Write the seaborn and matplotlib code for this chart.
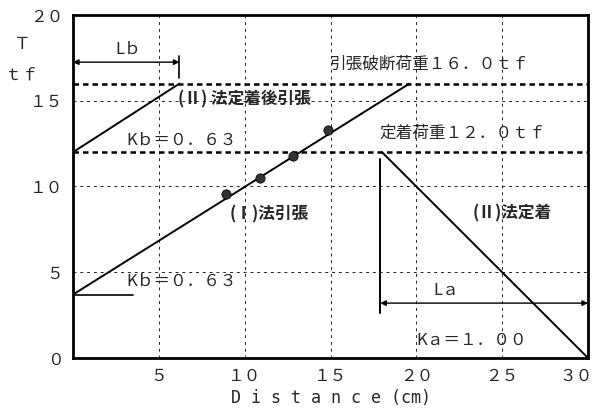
import matplotlib
matplotlib.use("Agg")
import matplotlib.pyplot as plt
import matplotlib.transforms as mtransforms
import seaborn as sns
import pandas as pd

# Tension profiles along the tendon (distance in cm, tension in tf)
post_fix_x = [0.0, 6.2]          # (II) method: tension after anchoring
post_fix_y = [12.0, 16.0]
tension_x = [0.0, 19.6]          # (I) method: tensioning line
tension_y = [3.7, 16.0]
anchor_x = [18.0, 30.0]          # (II) method: anchoring drop
anchor_y = [12.0, 0.0]
measured_x = [8.9, 10.9, 12.8, 14.85]
measured_y = [9.55, 10.5, 11.8, 13.3]

breaking_load = 16.0
anchor_load = 12.0
lb_length = 6.2
la_start = 17.9

x_ticks = [0, 5, 10, 15, 20, 25, 30]
y_ticks = [0, 5, 10, 15, 20]
x_tick_labels = ["", "５", "１０", "１５", "２０", "２５", "３０"]
y_tick_labels = ["０", "５", "１０", "１５", "２０"]

sns.set_style("white")
plt.rcParams["font.family"] = ["Noto Sans CJK JP", "DejaVu Sans"]

fig = plt.figure(figsize=(6.0, 4.11), dpi=100)
ax = fig.add_axes([0.1217, 0.129, 0.8583, 0.8345])

line_kw = dict(color="black", linewidth=1.4, ax=ax, legend=False)
sns.lineplot(data=pd.DataFrame({"x": post_fix_x, "y": post_fix_y}), x="x", y="y", **line_kw)
sns.lineplot(data=pd.DataFrame({"x": tension_x, "y": tension_y}), x="x", y="y", **line_kw)
sns.lineplot(data=pd.DataFrame({"x": anchor_x, "y": anchor_y}), x="x", y="y", **line_kw)
sns.scatterplot(data=pd.DataFrame({"x": measured_x, "y": measured_y}), x="x", y="y",
                color="#333333", edgecolor="black", s=45, ax=ax, zorder=5, legend=False)

# Reference loads
for level in (breaking_load, anchor_load):
    ax.axhline(level, color="black", linewidth=1.8, linestyle=(0, (2.2, 1.6)), zorder=2)

# Short Kb segment and La / Lb markers
ax.plot([0, 3.5], [3.7, 3.7], color="black", linewidth=1.2)
ax.plot([la_start, la_start], [11.6, 2.6], color="black", linewidth=1.4)
ax.plot([lb_length, lb_length], [16.3, 17.6], color="black", linewidth=1.2)

arrow = dict(arrowstyle="<|-|>", color="black", linewidth=1.0, mutation_scale=8,
             shrinkA=0, shrinkB=0)
ax.annotate("", xy=(0, 17.25), xytext=(lb_length, 17.25), arrowprops=arrow)
ax.annotate("", xy=(la_start, 3.2), xytext=(30, 3.2), arrowprops=arrow)

fs = 12
ax.text(3.2, 18.0, "Lｂ", fontsize=fs, ha="center", va="center")
ax.text(21.75, 3.95, "Lａ", fontsize=fs, ha="center", va="center")
ax.text(6.1, 15.05, "(Ⅱ) 法定着後引張", fontsize=fs, ha="left", va="center", weight="bold")
ax.text(3.1, 12.7, "Kｂ＝０．６３", fontsize=fs, ha="left", va="center")
ax.text(3.1, 4.5, "Kｂ＝０．６３", fontsize=fs, ha="left", va="center")
ax.text(14.95, 17.15, "引張破断荷重１６．０ｔｆ", fontsize=fs, ha="left", va="center")
ax.text(17.85, 13.1, "定着荷重１２．０ｔｆ", fontsize=fs, ha="left", va="center")
ax.text(9.1, 8.35, "(Ⅰ)法引張", fontsize=fs, ha="left", va="center", weight="bold")
ax.text(23.3, 8.45, "(Ⅱ)法定着", fontsize=fs, ha="left", va="center", weight="bold")
ax.text(20.0, 1.05, "Kａ＝１．００", fontsize=fs, ha="left", va="center")

ax.set_xlim(0, 30)
ax.set_ylim(0, 20)
ax.set_xticks(x_ticks)
ax.set_xticklabels(x_tick_labels, fontsize=fs)
ax.set_yticks(y_ticks)
ax.set_yticklabels(y_tick_labels, fontsize=fs)
ax.tick_params(length=0, pad=7)
# last x label sits slightly inside the figure edge
last = ax.get_xticklabels()[-1]
last.set_transform(last.get_transform() + mtransforms.ScaledTranslation(-12 / 100, 0, fig.dpi_scale_trans))
ax.grid(True, color="#222222", linewidth=0.7, linestyle=(0, (3, 4)))
for spine in ax.spines.values():
    spine.set_linewidth(2.0)
    spine.set_color("black")
ax.set_xlabel("D i s t a n c e (cm)", fontsize=fs, labelpad=3,
              family=["DejaVu Sans Mono"])
ax.set_ylabel("")
fig.text(22 / 600, 1 - 45 / 411, "Ｔ", fontsize=fs, ha="center", va="center")
fig.text(22 / 600, 1 - 75 / 411, "ｔｆ", fontsize=fs, ha="center", va="center")

fig.savefig("out.png", dpi=100)
